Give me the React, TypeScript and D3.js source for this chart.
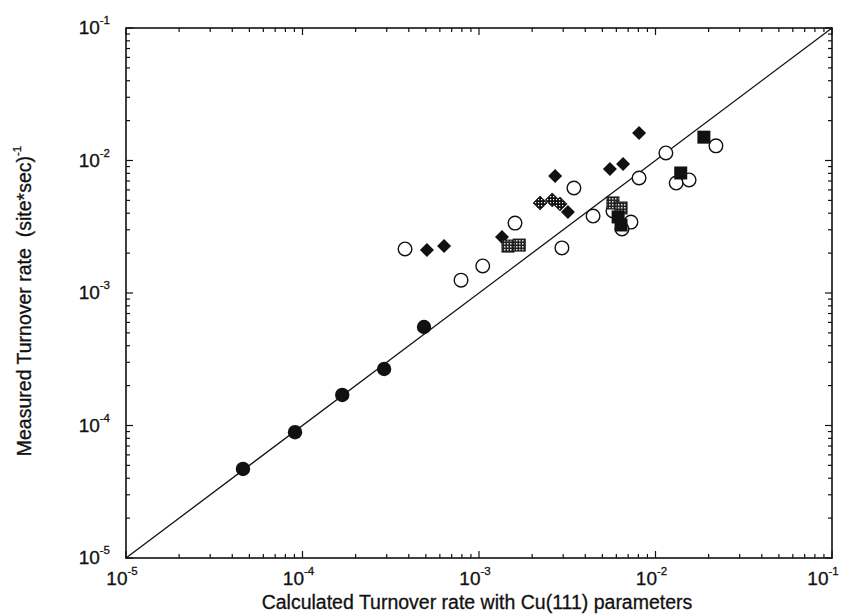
import React from "react";
import * as d3 from "d3";

// Data: [calculated, measured] turnover rates
const filledCircles: [number, number][] = [
  [4.6e-5, 4.7e-5],
  [9.07e-5, 8.9e-5],
  [1.68e-4, 1.7e-4],
  [2.9e-4, 2.67e-4],
  [4.88e-4, 5.54e-4],
];

const openCircles: [number, number][] = [
  [3.81e-4, 2.15e-3],
  [7.91e-4, 1.25e-3],
  [1.05e-3, 1.6e-3],
  [1.6e-3, 3.37e-3],
  [2.95e-3, 2.19e-3],
  [3.45e-3, 6.2e-3],
  [4.43e-3, 3.81e-3],
  [5.74e-3, 4.16e-3],
  [7.26e-3, 3.43e-3],
  [6.46e-3, 3.04e-3],
  [8.07e-3, 7.38e-3],
  [1.145e-2, 1.14e-2],
  [1.31e-2, 6.76e-3],
  [1.55e-2, 7.13e-3],
  [2.2e-2, 1.29e-2],
];

const filledDiamonds: [number, number][] = [
  [5.07e-4, 2.11e-3],
  [6.34e-4, 2.26e-3],
  [1.35e-3, 2.65e-3],
  [2.7e-3, 7.64e-3],
  [3.19e-3, 4.09e-3],
  [5.52e-3, 8.63e-3],
  [6.55e-3, 9.41e-3],
  [8.07e-3, 1.61e-2],
];

const patternDiamonds: [number, number][] = [
  [2.22e-3, 4.78e-3],
  [2.6e-3, 5.04e-3],
  [2.88e-3, 4.7e-3],
];

const patternSquares: [number, number][] = [
  [1.46e-3, 2.26e-3],
  [1.69e-3, 2.3e-3],
  [5.74e-3, 4.78e-3],
  [6.38e-3, 4.38e-3],
];

const filledSquares: [number, number][] = [
  [1.88e-2, 1.5e-2],
  [1.39e-2, 8.05e-3],
  [6.14e-3, 3.75e-3],
  [6.38e-3, 3.26e-3],
];

const decades = [-5, -4, -3, -2, -1];
const diagonal: [number, number][] = [
  [1e-5, 1e-5],
  [1e-1, 1e-1],
];

const xTitle = "Calculated Turnover rate with Cu(111) parameters";
const yTitle = "Measured Turnover rate  (site*sec)";

const W = 843;
const H = 615;
const L = 126, R = 832, T = 28, B = 558;
const FONT = "'Liberation Sans', Arial, Helvetica, sans-serif";

export default function App() {
  const x = d3.scaleLog().domain([1e-5, 1e-1]).range([L, R]);
  const y = d3.scaleLog().domain([1e-5, 1e-1]).range([B, T]);

  const minor: number[] = [];
  for (let e = -5; e < -1; e++) {
    for (let m = 2; m <= 9; m++) minor.push(m * Math.pow(10, e));
  }
  const major = decades.map((e) => Math.pow(10, e));
  const line = d3.line<[number, number]>().x((d) => x(d[0])).y((d) => y(d[1]));

  const diamond = (cx: number, cy: number, r: number) =>
    `M${cx},${cy - r}L${cx + r},${cy}L${cx},${cy + r}L${cx - r},${cy}Z`;

  const ticks: JSX.Element[] = [];
  const addTicks = (vals: number[], len: number, key: string) => {
    vals.forEach((v, i) => {
      const px = x(v);
      const py = y(v);
      ticks.push(<line key={`${key}b${i}`} x1={px} x2={px} y1={B} y2={B - len} />);
      ticks.push(<line key={`${key}t${i}`} x1={px} x2={px} y1={T} y2={T + len} />);
      ticks.push(<line key={`${key}l${i}`} x1={L} x2={L + len} y1={py} y2={py} />);
      ticks.push(<line key={`${key}r${i}`} x1={R} x2={R - len} y1={py} y2={py} />);
    });
  };
  addTicks(minor, 4, "mi");
  addTicks(major, 7, "ma");

  return (
    <svg
      width={W}
      height={H}
      style={{ position: "absolute", left: 0, top: 0, background: "#fff" }}
      fontFamily={FONT}
    >
      <defs>
        <pattern id="dots" width="3" height="3" patternUnits="userSpaceOnUse">
          <rect width="3" height="3" fill="#111" />
          <rect x="1" y="1" width="1.2" height="1.2" fill="#fff" />
        </pattern>
        <pattern id="dots2" width="3" height="3" patternUnits="userSpaceOnUse">
          <rect width="3" height="3" fill="#222" />
          <rect x="0" y="0" width="1.5" height="1.5" fill="#ddd" />
        </pattern>
      </defs>
      <rect width={W} height={H} fill="#fff" />
      <rect x={L} y={T} width={R - L} height={B - T} fill="none" stroke="#111" strokeWidth={1.6} />
      <g stroke="#111" strokeWidth={1.2}>{ticks}</g>
      <path d={line(diagonal) || ""} stroke="#111" strokeWidth={1.3} fill="none" />

      {/* x tick labels */}
      {decades.map((e) => (
        <text
          key={`xl${e}`}
          x={Math.min(x(Math.pow(10, e)) - 4, 823)}
          y={585}
          textAnchor="middle"
          fontSize={19}
          fill="#111"
          stroke="#111"
          strokeWidth={0.3}
        >
          10
          <tspan fontSize={11.5} dy={-10}>{String(e)}</tspan>
        </text>
      ))}
      {/* y tick labels */}
      {decades.map((e) => (
        <text key={`yl${e}`} x={110} y={y(Math.pow(10, e)) + 6} textAnchor="end" fontSize={19} fill="#111" stroke="#111" strokeWidth={0.3}>
          10
          <tspan fontSize={11.5} dy={-10}>{String(e)}</tspan>
        </text>
      ))}

      {/* markers */}
      {openCircles.map((d, i) => (
        <circle key={`oc${i}`} cx={x(d[0])} cy={y(d[1])} r={6.8} fill="#fff" stroke="#111" strokeWidth={1.4} />
      ))}
      {filledCircles.map((d, i) => (
        <circle key={`fc${i}`} cx={x(d[0])} cy={y(d[1])} r={7.2} fill="#111" />
      ))}
      {filledDiamonds.map((d, i) => (
        <path key={`fd${i}`} d={diamond(x(d[0]), y(d[1]), 7)} fill="#111" />
      ))}
      {patternDiamonds.map((d, i) => (
        <path key={`pd${i}`} d={diamond(x(d[0]), y(d[1]), 7)} fill="url(#dots)" stroke="#111" strokeWidth={0.8} />
      ))}
      {patternSquares.map((d, i) => (
        <rect key={`ps${i}`} x={x(d[0]) - 6} y={y(d[1]) - 6} width={12} height={12} fill="url(#dots2)" stroke="#111" strokeWidth={1} />
      ))}
      {filledSquares.map((d, i) => (
        <rect key={`fs${i}`} x={x(d[0]) - 6.5} y={y(d[1]) - 6.5} width={13} height={13} fill="#111" />
      ))}

      {/* axis titles */}
      <text x={(L + R) / 2 - 2} y={609} textAnchor="middle" fontSize={19.5} fill="#111" stroke="#111" strokeWidth={0.3}>
        {xTitle}
      </text>
      <text
        transform={`translate(31, ${(T + B) / 2 + 8}) rotate(-90)`}
        textAnchor="middle"
        fontSize={19.5}
        fill="#111"
        stroke="#111"
        strokeWidth={0.3}
        style={{ whiteSpace: "pre" }}
      >
        {yTitle}
        <tspan fontSize={11.5} dy={-10}>-1</tspan>
      </text>
    </svg>
  );
}
